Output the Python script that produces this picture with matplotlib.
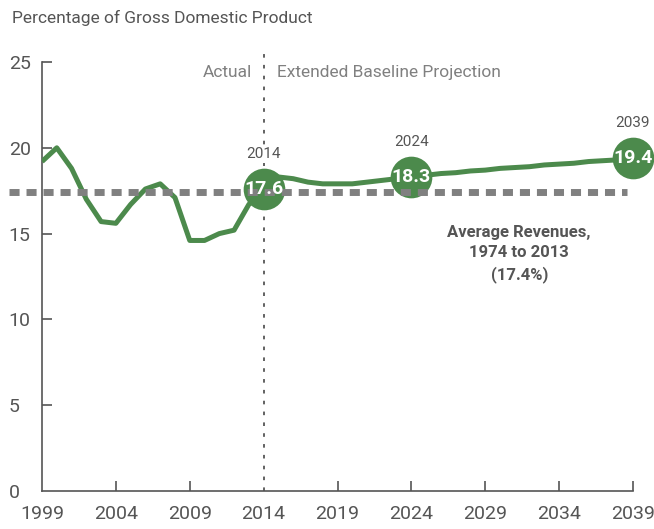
import matplotlib
matplotlib.use("Agg")
import matplotlib.pyplot as plt
from matplotlib import font_manager

names = {f.name for f in font_manager.fontManager.ttflist}
fam = ['Liberation Sans Narrow', 'DejaVu Sans'] if 'Liberation Sans Narrow' in names else ['Roboto', 'DejaVu Sans']
plt.rcParams['font.family'] = fam

years = list(range(1999, 2040))
revenues = [19.2, 20.0, 18.8, 17.0, 15.7, 15.6, 16.7, 17.6, 17.9, 17.1,
            14.6, 14.6, 15.0, 15.2, 16.7, 17.6,
            18.3, 18.2, 18.0, 17.9, 17.9, 17.9, 18.0, 18.1, 18.2, 18.3,
            18.4, 18.5, 18.55, 18.65, 18.7, 18.8, 18.85, 18.9, 19.0, 19.05,
            19.1, 19.2, 19.25, 19.3, 19.4]
highlight_years = [2014, 2024, 2039]
highlight_values = [17.6, 18.3, 19.4]
average = 17.4
xticks = [1999, 2004, 2009, 2014, 2019, 2024, 2029, 2034, 2039]
yticks = [0, 5, 10, 15, 20, 25]

green = '#4c8a4c'
grey_text = '#555555'
axis_grey = '#555555'

fig = plt.figure(figsize=(6.54, 5.29), dpi=100)
ax = fig.add_axes([42/654, 38/529, (633-42)/654, (491-62)/529])
ax.set_xlim(1999, 2039)
ax.set_ylim(0, 25)

ax.plot(years, revenues, color=green, lw=3.6, zorder=3, solid_capstyle='butt')

# average line
ax.plot([1996.8, 2038.6], [average, average], color='#808080', lw=5,
        dashes=(1.45, 1.0), zorder=5, clip_on=False)

# circles
ax.plot(highlight_years, highlight_values, 'o', ms=30, color=green,
        markeredgewidth=0, zorder=4, clip_on=False)
for yr, v in zip(highlight_years, highlight_values):
    ax.text(yr, v, f'{v:.1f}', color='white', fontsize=14, fontweight='bold',
            ha='center', va='center', zorder=6)
    ax.annotate(str(yr), (yr, v), xytext=(0, 20), textcoords='offset points',
                ha='center', va='bottom', fontsize=11, color=grey_text, zorder=6,
                bbox=dict(boxstyle='square,pad=0.15', fc='white', ec='none'))

# divider
ax.plot([2014, 2014], [0, 25.7], color='#555555', lw=1.3, ls=(0, (2, 4)),
        zorder=1, clip_on=False)
ax.text(2013.2, 24.4, 'Actual', ha='right', va='center', fontsize=12.5, color='#808080')
ax.text(2014.9, 24.4, 'Extended Baseline Projection', ha='left', va='center',
        fontsize=12.5, color='#808080')

ax.text(2031.3, 13.8, 'Average Revenues,\n1974 to 2013\n(17.4%)', ha='center',
        va='center', fontsize=12, fontweight='bold', color=grey_text, linespacing=1.45)

ax.set_xticks(xticks)
ax.set_yticks(yticks)
ax.set_xticklabels([str(x) for x in xticks])
ax.set_yticklabels([str(y) for y in yticks])
for s in ['top', 'right']:
    ax.spines[s].set_visible(False)
for s in ['left', 'bottom']:
    ax.spines[s].set_color(axis_grey)
    ax.spines[s].set_linewidth(1.2)
ax.tick_params(axis='both', direction='in', length=7, width=1.2, color=axis_grey,
               labelsize=14, labelcolor=grey_text)
ax.tick_params(axis='y', pad=24)
ax.tick_params(axis='x', pad=10)
for lab in ax.get_yticklabels():
    lab.set_horizontalalignment('left')
ax.yaxis.get_major_ticks()[0].tick1line.set_visible(False)
ax.xaxis.get_major_ticks()[0].tick1line.set_visible(False)
ax.xaxis.get_major_ticks()[3].tick1line.set_visible(False)

fig.text(12/654, 1 - 18/529, 'Percentage of Gross Domestic Product', fontsize=12.5,
         color=grey_text, ha='left', va='center')

fig.savefig('out.png', dpi=100)
